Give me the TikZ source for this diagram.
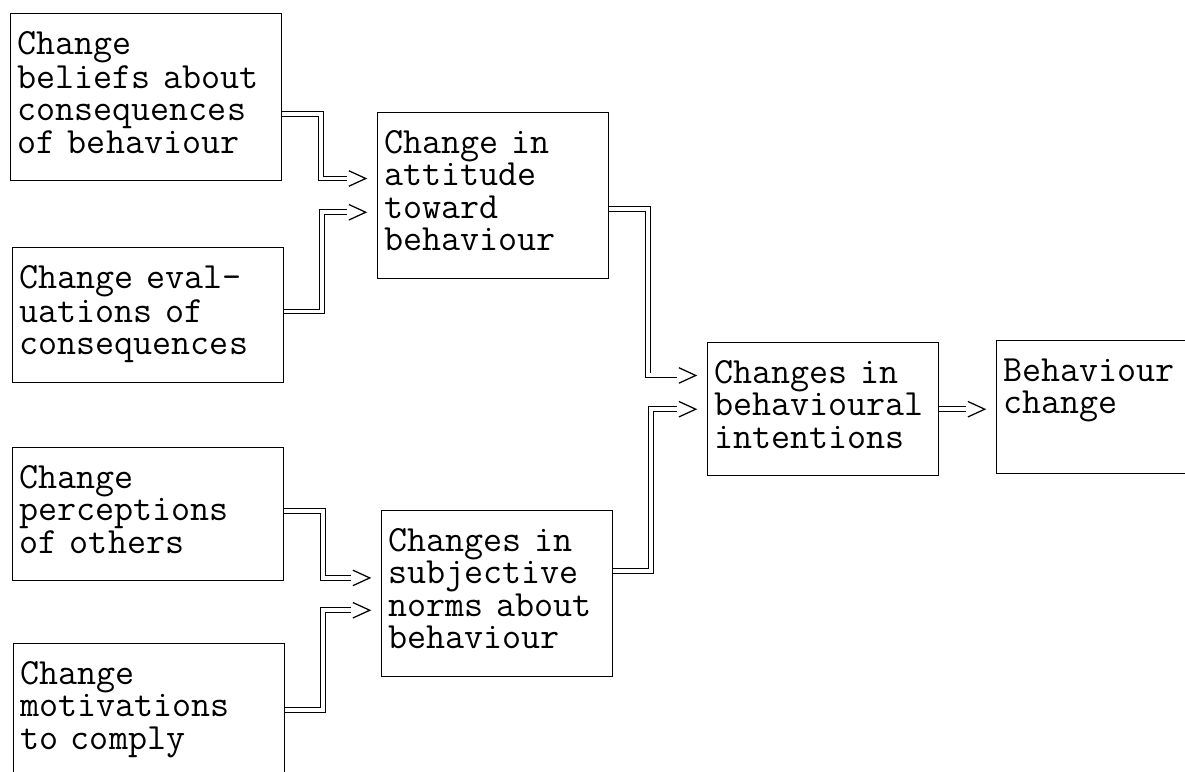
\documentclass[tikz,border=0pt]{standalone}
\usepackage{fontspec}
\usetikzlibrary{decorations.markings}

% typewriter face, fixed word spaces
\newcommand\boxfont{\ttfamily\fontsize{26.3}{23}\selectfont
  \spaceskip=0.525em plus 0pt minus 0pt\relax}

\begin{document}
\begin{tikzpicture}[x=0.025cm, y=-0.025cm,
    box/.style={draw, line width=0.7pt, anchor=north west, align=left,
      inner xsep=5pt, inner ysep=12.8pt, font=\boxfont,
      execute at begin node=\strut, execute at end node=\strut},
    wide/.style={box, text width=183pt},
    slim/.style={box, text width=154pt},
    link/.style={double, double distance=2.8pt, line width=0.7pt, shorten >=21pt,
      postaction={decorate, decoration={markings, mark=at position 1 with
        {\draw[line width=0.9pt, shorten >=0pt] (-20pt,5.5pt) -- (-8pt,0pt) -- (-20pt,-5.5pt);}}}}]

    \useasboundingbox (0,0) rectangle (1185,771);
    \clip (0,0) rectangle (1185,771);

    \node[wide] (bel) at (10,13) {Change\\beliefs about\\consequences\\of behaviour};
    \node[wide] (eva) at (12,247) {Change eval-\\uations of\\consequences};
    \node[wide] (per) at (12,447) {Change\\perceptions\\of others};
    \node[wide] (mot) at (13,643) {Change\\motivations\\to comply};
    \node[slim] (att) at (377,112) {Change in\\attitude\\toward\\behaviour};
    \node[slim] (nrm) at (381,510) {Changes in\\subjective\\norms about\\behaviour};
    \node[slim] (int) at (707,342) {Changes in\\behavioural\\intentions};
    \node[slim] (beh) at (996,340) {Behaviour\\change\\};

    \draw[link] ([yshift=-12pt]bel.east) -- ++(39,0) |- ([yshift=12pt]att.west);
    \draw[link] ([yshift=2.5pt]eva.east) -- ++(38,0) |- ([yshift=-12pt]att.west);
    \draw[link] ([yshift=2pt]per.east) -- ++(39,0) |- ([yshift=11pt]nrm.west);
    \draw[link] (mot.east) -- ++(38,0) |- ([yshift=-12pt]nrm.west);
    \draw[link] ([yshift=-10pt]att.east) -- ++(39,0) |- ([yshift=24pt]int.west);
    \draw[link] ([yshift=16pt]nrm.east) -- ++(38,0) |- (int.west);
    \draw[link] (int.east) -- (int.east -| beh.west);

\end{tikzpicture}
\end{document}
